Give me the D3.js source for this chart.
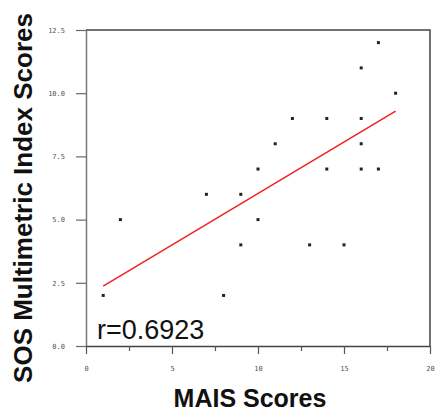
<!DOCTYPE html>
<meta charset="utf-8">
<style>
    body { margin:0; background:#fff; }
    svg text { font-family:'Liberation Sans', Arial, sans-serif; }
</style>
<body>
<script src="https://cdn.jsdelivr.net/npm/d3@7"></script>
<script>
var width = 435, height = 411;

// MAIS score vs SOS Multimetric Index score
var maisScores = [1, 2, 7, 8, 9, 9, 10, 10, 11, 12, 13, 14, 14, 15, 16, 16, 16, 16, 17, 17, 18];
var sosScores  = [2, 5, 6, 2, 6, 4, 7, 5, 8, 9, 4, 9, 7, 4, 11, 9, 8, 7, 12, 7, 10];

// fitted line end points
var fitX = [1, 18];
var fitY = [2.37, 9.29];

var xTicks = [0, 5, 10, 15, 20];
var xMinorTicks = [2.5, 7.5, 12.5, 17.5];
var yTicks = [0, 2.5, 5, 7.5, 10, 12.5];

var x = d3.scaleLinear().domain([0, 20]).range([86, 430]);
var y = d3.scaleLinear().domain([0, 12.5]).range([346, 30]);

var svg = d3.select("body").append("svg")
    .attr("width", width)
    .attr("height", height);

// frame top and right
svg.append("path")
    .attr("d", "M" + x(0) + "," + y(12.5) + "H" + x(20) + "V" + y(0))
    .attr("fill", "none")
    .attr("stroke", "#444")
    .attr("stroke-width", 1.5);

var yAxis = svg.append("g")
    .attr("transform", "translate(" + x(0) + ",0)")
    .call(d3.axisLeft(y).tickValues(yTicks).tickSize(10).tickSizeOuter(0)
        .tickFormat(d3.format(".1f")));
yAxis.select(".domain").attr("stroke", "#777").attr("stroke-width", 1.5);
yAxis.selectAll(".tick line").attr("stroke", "#666").attr("stroke-width", 1.2);
yAxis.selectAll(".tick text")
    .attr("x", -21)
    .attr("fill", "#555")
    .style("font-size", "7px")
    .style("font-family", "'DejaVu Sans Mono', monospace");

var xAxis = svg.append("g")
    .attr("transform", "translate(0," + y(0) + ")")
    .call(d3.axisBottom(x).tickValues(xTicks).tickSize(8).tickSizeOuter(0)
        .tickFormat(d3.format("d")));
xAxis.select(".domain").attr("stroke", "#444").attr("stroke-width", 1.5);
xAxis.selectAll(".tick line").attr("stroke", "#555").attr("stroke-width", 1.2);
xAxis.selectAll(".tick text")
    .attr("y", 20)
    .attr("fill", "#555")
    .style("font-size", "7px")
    .style("font-family", "'DejaVu Sans Mono', monospace");

svg.append("g")
    .attr("transform", "translate(0," + y(0) + ")")
    .call(d3.axisBottom(x).tickValues(xMinorTicks).tickSize(5).tickFormat(""))
    .call(function(g) { g.select(".domain").remove(); })
    .selectAll("line").attr("stroke", "#555").attr("stroke-width", 1.2);

// regression line
svg.append("path")
    .datum(d3.zip(fitX, fitY))
    .attr("d", d3.line().x(function(d) { return x(d[0]); }).y(function(d) { return y(d[1]); }))
    .attr("stroke", "#f02020")
    .attr("stroke-width", 1.5)
    .attr("fill", "none");

// points
svg.append("g").selectAll("rect")
    .data(d3.zip(maisScores, sosScores))
    .enter().append("rect")
    .attr("x", function(d) { return x(d[0]) - 1.5; })
    .attr("y", function(d) { return y(d[1]) - 1.5; })
    .attr("width", 3)
    .attr("height", 3)
    .attr("fill", "#222");

svg.append("text")
    .attr("x", 97)
    .attr("y", 339)
    .style("font-size", "27px")
    .attr("fill", "#111")
    .text("r=0.6923");

svg.append("text")
    .attr("x", 250)
    .attr("y", 407)
    .attr("text-anchor", "middle")
    .style("font-size", "25px")
    .style("font-weight", "bold")
    .attr("fill", "#111")
    .text("MAIS Scores");

svg.append("text")
    .attr("transform", "translate(32,198) rotate(-90)")
    .attr("text-anchor", "middle")
    .style("font-size", "26px")
    .style("font-weight", "bold")
    .attr("fill", "#111")
    .text("SOS Multimetric Index Scores");
</script>
</body>
